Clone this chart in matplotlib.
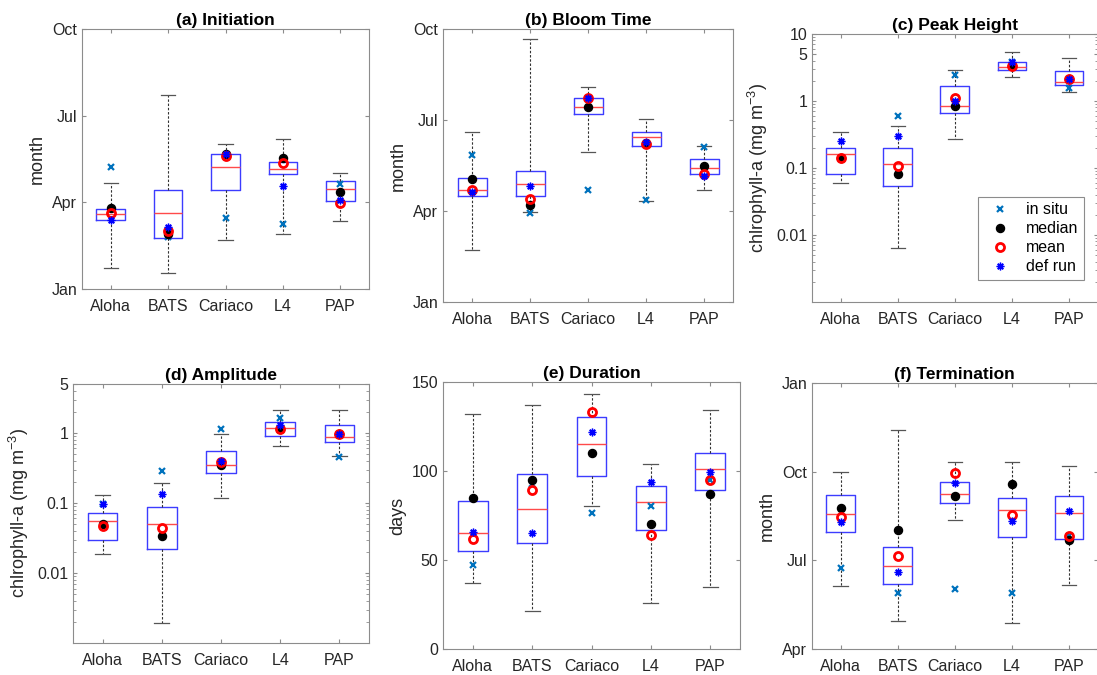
# bloom phenology box plots, six panels
import numpy as np
import matplotlib
matplotlib.use('Agg')
import matplotlib.pyplot as plt

plt.rcParams['font.family'] = ['Liberation Sans', 'DejaVu Sans']
plt.rcParams['mathtext.default'] = 'regular'

sites = ['Aloha', 'BATS', 'Cariaco', 'L4', 'PAP']

# (a) Initiation, month units (1 = Jan)
a_lo = [1.73, 1.54, 2.71, 2.89, 3.34]
a_q1 = [3.39, 2.76, 4.42, 4.97, 4.06]
a_med = [3.59, 3.63, 5.23, 5.15, 4.45]
a_q3 = [3.76, 4.42, 5.69, 5.41, 4.74]
a_hi = [4.66, 7.71, 6.03, 6.20, 5.01]
a_insitu = [5.21, 2.80, 3.46, 3.24, 4.63]
a_median = [3.79, 2.91, 5.67, 5.54, 4.35]
a_mean = [3.64, 3.01, 5.61, 5.36, 3.98]
a_def = [3.40, 3.15, 5.67, 4.58, 4.07]

# (b) Bloom Time
b_lo = [2.70, 3.96, 5.93, 4.33, 4.68]
b_q1 = [4.48, 4.51, 7.19, 6.14, 5.21]
b_med = [4.68, 4.88, 7.42, 6.44, 5.41]
b_q3 = [5.10, 5.33, 7.71, 6.62, 5.72]
b_hi = [6.59, 9.67, 8.10, 7.02, 6.15]
b_insitu = [5.85, 3.94, 4.69, 4.35, 6.12]
b_median = [5.05, 4.19, 7.44, 6.25, 5.48]
b_mean = [4.70, 4.39, 7.71, 6.21, 5.23]
b_def = [4.61, 4.82, 7.71, 6.26, 5.15]

# (c) Peak Height, mg m-3
c_lo = [0.060, 0.0064, 0.273, 2.31, 1.34]
c_q1 = [0.080, 0.0536, 0.660, 2.87, 1.71]
c_med = [0.161, 0.113, 0.830, 3.21, 1.94]
c_q3 = [0.198, 0.196, 1.69, 3.82, 2.80]
c_hi = [0.343, 0.427, 2.90, 5.38, 4.37]
c_insitu = [0.142, 0.596, 2.44, 3.86, 1.54]
c_median = [0.142, 0.0818, 0.830, 3.28, 2.13]
c_mean = [0.142, 0.107, 1.107, 3.33, 2.13]
c_def = [0.252, 0.296, 0.986, 3.86, 2.15]

# (d) Amplitude, mg m-3
d_lo = [0.0186, 0.00192, 0.116, 0.646, 0.471]
d_q1 = [0.0298, 0.0219, 0.270, 0.916, 0.745]
d_med = [0.0549, 0.0508, 0.343, 1.19, 0.887]
d_q3 = [0.0729, 0.0868, 0.561, 1.45, 1.31]
d_hi = [0.128, 0.195, 0.98, 2.15, 2.10]
d_insitu = [0.097, 0.282, 1.15, 1.65, 0.446]
d_median = [0.0497, 0.0332, 0.347, 1.13, 0.98]
d_mean = [0.0471, 0.0432, 0.379, 1.14, 0.98]
d_def = [0.0968, 0.136, 0.391, 1.30, 0.96]

# (e) Duration, days
e_lo = [37.1, 21.2, 80.1, 26.0, 35.0]
e_q1 = [55.1, 59.7, 97.2, 66.9, 89.5]
e_med = [65.2, 78.7, 115.2, 82.6, 101.1]
e_q3 = [83.1, 98.5, 130.1, 91.6, 109.9]
e_hi = [131.8, 137.1, 143.3, 103.9, 134.1]
e_insitu = [47.0, 92.9, 76.2, 80.1, 95.1]
e_median = [85.0, 95.1, 110.1, 70.2, 87.1]
e_mean = [62.0, 89.1, 133.1, 64.0, 95.1]
e_def = [65.9, 65.2, 121.9, 94.0, 99.3]

# (f) Termination, month units (13 = Jan next year)
f_lo = [6.13, 4.94, 8.35, 4.88, 6.16]
f_q1 = [7.96, 6.19, 8.93, 7.78, 7.71]
f_med = [8.57, 6.82, 9.23, 8.69, 8.59]
f_q3 = [9.20, 7.46, 9.65, 9.12, 9.19]
f_hi = [9.995, 11.40, 10.32, 10.32, 10.20]
f_insitu = [6.74, 5.90, 6.02, 5.89, 7.82]
f_median = [8.77, 8.04, 9.19, 9.58, 7.69]
f_mean = [8.48, 7.16, 9.97, 8.54, 7.84]
f_def = [8.31, 6.61, 9.61, 8.34, 8.67]

SPINE = '#8c8c8c'
TXT = '#262626'
LBL = 13


def panel(fig, rect, title, lo, q1, med, q3, hi, insitu, median, mean, defrun):
    ax = fig.add_axes(rect)
    stats = []
    for i in range(len(sites)):
        stats.append(dict(whislo=lo[i], q1=q1[i], med=med[i], q3=q3[i],
                          whishi=hi[i], label=sites[i]))
    pos = np.arange(1, len(sites) + 1)
    ax.bxp(stats, positions=pos, widths=0.5, showfliers=False,
           boxprops=dict(color='#3c3cff', lw=1.0),
           medianprops=dict(color='#ff4a4a', lw=1.0),
           whiskerprops=dict(color='#333333', lw=0.8, ls=(0, (2.2, 1.6))),
           capprops=dict(color='#555555', lw=0.9))
    h1, = ax.plot(pos, insitu, 'x', color='#0072BD', ms=4.5, mew=1.6, ls='none', zorder=4)
    h2, = ax.plot(pos, median, 'o', color='black', ms=5.8, ls='none', zorder=5)
    h3, = ax.plot(pos, mean, 'o', mfc='none', mec='red', mew=2, ms=5.8, ls='none', zorder=6)
    h4, = ax.plot(pos, defrun, marker=(8, 2, 0), color='blue', ms=5.5, mew=1.0, ls='none', zorder=7)
    ax.set_xlim(0.5, 5.5)
    ax.set_xticks(pos)
    ax.set_xticklabels(sites)
    ax.set_title(title, fontsize=12.5, fontweight='bold', pad=3, color='black')
    ax.tick_params(direction='in', top=True, right=True, length=3, color=SPINE,
                   labelsize=11.5, labelcolor=TXT)
    ax.tick_params(axis='x', pad=7)
    ax.tick_params(which='minor', direction='in', right=True, length=2, color=SPINE)
    for s in ax.spines.values():
        s.set_color(SPINE)
        s.set_linewidth(0.8)
    return ax, (h1, h2, h3, h4)


fig = plt.figure(figsize=(10.97, 6.75), dpi=100)
W, H = 1097.0, 675.0


def rect(x0, x1, y0, y1):
    return [x0 / W, 1 - y1 / H, (x1 - x0) / W, (y1 - y0) / H]


ax, _ = panel(fig, rect(82, 369, 29, 289), '(a) Initiation',
              a_lo, a_q1, a_med, a_q3, a_hi, a_insitu, a_median, a_mean, a_def)
ax.set_ylim(1, 10)
ax.set_yticks([1, 4, 7, 10])
ax.set_yticklabels(['Jan', 'Apr', 'Jul', 'Oct'])
ax.set_ylabel('month', fontsize=LBL, color=TXT)

ax, _ = panel(fig, rect(443, 733, 29, 302), '(b) Bloom Time',
              b_lo, b_q1, b_med, b_q3, b_hi, b_insitu, b_median, b_mean, b_def)
ax.set_ylim(1, 10)
ax.set_yticks([1, 4, 7, 10])
ax.set_yticklabels(['Jan', 'Apr', 'Jul', 'Oct'])
ax.set_ylabel('month', fontsize=LBL, color=TXT)

ax, hs = panel(fig, rect(812, 1097.5, 34, 302), '(c) Peak Height',
               c_lo, c_q1, c_med, c_q3, c_hi, c_insitu, c_median, c_mean, c_def)
ax.set_yscale('log')
ax.set_ylim(0.001, 10)
ax.set_yticks([0.01, 0.1, 1, 5, 10])
ax.set_yticklabels(['0.01', '0.1', '1', '5', '10'])
ax.set_ylabel('chlrophyll-a (mg m$^{-3}$)', fontsize=LBL, color=TXT)
leg = ax.legend(hs, ['in situ', 'median', 'mean', 'def run'], loc='lower right',
                bbox_to_anchor=(0.951, 0.082), borderaxespad=0, fontsize=11.5,
                fancybox=False, framealpha=1, edgecolor=SPINE, handletextpad=0.6,
                labelspacing=0.25, borderpad=0.35)
leg.get_frame().set_linewidth(0.8)

ax, _ = panel(fig, rect(73, 369, 384, 643), '(d) Amplitude',
              d_lo, d_q1, d_med, d_q3, d_hi, d_insitu, d_median, d_mean, d_def)
ax.set_yscale('log')
ax.set_ylim(0.001, 5)
ax.set_yticks([0.01, 0.1, 1, 5])
ax.set_yticklabels(['0.01', '0.1', '1', '5'])
ax.set_ylabel('chlrophyll-a (mg m$^{-3}$)', fontsize=LBL, color=TXT)

ax, _ = panel(fig, rect(443, 740, 382, 649), '(e) Duration',
              e_lo, e_q1, e_med, e_q3, e_hi, e_insitu, e_median, e_mean, e_def)
ax.set_ylim(0, 150)
ax.set_yticks([0, 50, 100, 150])
ax.set_ylabel('days', fontsize=LBL, color=TXT)

ax, _ = panel(fig, rect(812, 1097.5, 383, 649), '(f) Termination',
              f_lo, f_q1, f_med, f_q3, f_hi, f_insitu, f_median, f_mean, f_def)
ax.set_ylim(4, 13)
ax.set_yticks([4, 7, 10, 13])
ax.set_yticklabels(['Apr', 'Jul', 'Oct', 'Jan'])
ax.set_ylabel('month', fontsize=LBL, color=TXT)

fig.savefig('out.png', dpi=100)
